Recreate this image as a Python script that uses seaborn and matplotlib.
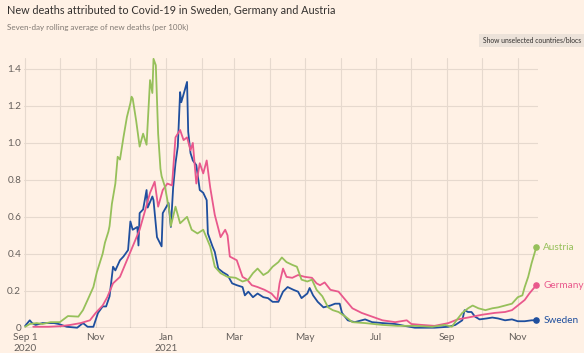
import matplotlib
matplotlib.use("Agg")
import matplotlib.pyplot as plt
import seaborn as sns
import pandas as pd

START = pd.Timestamp("2020-09-01")

austria_days = [0, 4, 10, 15, 22, 30, 37, 46, 50, 54, 59, 62, 67, 69, 72, 73, 75, 78, 80, 82,
                85, 88, 91, 92, 93, 96, 99, 102, 105, 108, 110, 111, 113, 115, 117, 118, 121,
                125, 126, 130, 134, 140, 144, 149, 154, 160, 164, 169, 175, 182, 188, 193, 197,
                201, 206, 210, 214, 219, 222, 226, 231, 235, 239, 244, 248, 252, 257, 262, 266,
                271, 277, 283, 294, 309, 322, 337, 352, 363, 369, 373, 378, 383, 387, 392, 398,
                404, 409, 415, 421, 426, 430, 432, 435, 438, 442]
austria_vals = [0.005, 0.02, 0.025, 0.02, 0.03, 0.03, 0.063, 0.06, 0.095, 0.15, 0.22, 0.30, 0.40,
                0.46, 0.52, 0.55, 0.67, 0.78, 0.925, 0.91, 1.03, 1.14, 1.215, 1.25, 1.24, 1.12,
                0.98, 1.05, 0.99, 1.34, 1.27, 1.455, 1.42, 1.05, 0.86, 0.82, 0.76, 0.62, 0.55,
                0.655, 0.565, 0.60, 0.53, 0.51, 0.53, 0.44, 0.33, 0.295, 0.275, 0.27, 0.25, 0.26,
                0.295, 0.32, 0.285, 0.30, 0.33, 0.355, 0.38, 0.355, 0.34, 0.33, 0.26, 0.25, 0.26,
                0.205, 0.17, 0.11, 0.095, 0.085, 0.06, 0.03, 0.025, 0.015, 0.01, 0.01, 0.005,
                0.015, 0.005, 0.04, 0.08, 0.105, 0.12, 0.105, 0.095, 0.105, 0.11, 0.12, 0.13,
                0.165, 0.175, 0.22, 0.275, 0.35, 0.435]

germany_days = [7, 20, 30, 39, 48, 56, 61, 67, 71, 76, 82, 88, 93, 99, 104, 108, 112, 115, 119,
                123, 127, 130, 134, 137, 140, 143, 145, 148, 151, 154, 157, 160, 164, 169, 173,
                175, 177, 183, 188, 192, 196, 201, 207, 213, 218, 220, 223, 226, 231, 236, 242,
                248, 252, 255, 259, 264, 271, 277, 283, 291, 300, 309, 320, 330, 334, 343, 354,
                366, 374, 383, 395, 406, 415, 421, 426, 432, 436, 442]
germany_vals = [0.005, 0.005, 0.008, 0.015, 0.025, 0.04, 0.08, 0.12, 0.165, 0.24, 0.275, 0.365,
                0.44, 0.53, 0.64, 0.73, 0.79, 0.655, 0.745, 0.78, 0.77, 1.03, 1.07, 1.015, 1.03,
                0.96, 1.0, 0.78, 0.89, 0.835, 0.905, 0.76, 0.61, 0.49, 0.53, 0.50, 0.385, 0.365,
                0.275, 0.26, 0.23, 0.22, 0.205, 0.185, 0.15, 0.24, 0.32, 0.275, 0.27, 0.285,
                0.275, 0.27, 0.24, 0.23, 0.245, 0.205, 0.195, 0.15, 0.105, 0.08, 0.06, 0.04,
                0.03, 0.04, 0.02, 0.015, 0.01, 0.025, 0.045, 0.055, 0.07, 0.08, 0.085, 0.095,
                0.12, 0.15, 0.185, 0.23]

sweden_days = [0, 4, 6, 9, 15, 25, 29, 36, 45, 50, 54, 59, 63, 67, 70, 73, 76, 78, 82, 85, 89,
               91, 93, 97, 98, 99, 102, 105, 106, 110, 111, 114, 118, 119, 124, 126, 128, 130,
               132, 134, 135, 138, 140, 141, 143, 145, 148, 151, 154, 157, 158, 162, 164, 167,
               171, 175, 179, 183, 188, 190, 193, 197, 201, 206, 210, 214, 219, 223, 227, 232,
               236, 239, 244, 246, 249, 253, 258, 264, 268, 272, 274, 279, 285, 294, 300, 309,
               320, 328, 337, 354, 366, 372, 378, 380, 383, 386, 389, 393, 399, 404, 409, 415,
               421, 426, 432, 438, 442]
sweden_vals = [0.01, 0.04, 0.025, 0.015, 0.025, 0.025, 0.02, 0.005, 0.0, 0.025, 0.005, 0.005,
               0.08, 0.115, 0.115, 0.17, 0.33, 0.31, 0.365, 0.385, 0.42, 0.575, 0.53, 0.545,
               0.445, 0.62, 0.64, 0.745, 0.65, 0.71, 0.69, 0.49, 0.44, 0.62, 0.675, 0.545, 0.76,
               0.89, 0.98, 1.275, 1.22, 1.285, 1.33, 1.06, 0.945, 0.905, 0.88, 0.745, 0.73, 0.69,
               0.51, 0.44, 0.41, 0.32, 0.30, 0.285, 0.24, 0.23, 0.22, 0.175, 0.195, 0.165, 0.185,
               0.165, 0.16, 0.14, 0.14, 0.195, 0.22, 0.205, 0.195, 0.16, 0.185, 0.215, 0.175,
               0.14, 0.11, 0.12, 0.13, 0.13, 0.08, 0.04, 0.03, 0.045, 0.03, 0.025, 0.02, 0.01,
               0.0, 0.0, 0.005, 0.015, 0.04, 0.095, 0.085, 0.085, 0.06, 0.045, 0.05, 0.055,
               0.05, 0.04, 0.045, 0.035, 0.035, 0.04, 0.04]

countries = ["Sweden", "Germany", "Austria"]
colors = {"Sweden": "#1f4f9e", "Germany": "#e9588c", "Austria": "#96c05a"}

title = "New deaths attributed to Covid-19 in Sweden, Germany and Austria"
subtitle = "Seven-day rolling average of new deaths (per 100k)"
button_text = "Show unselected countries/blocs"
y_ticks = [0, 0.2, 0.4, 0.6, 0.8, 1.0, 1.2, 1.4]
y_labels = ["0", "0.2", "0.4", "0.6", "0.8", "1.0", "1.2", "1.4"]
x_tick_dates = ["2020-09-01", "2020-11-01", "2021-01-01", "2021-03-01", "2021-05-01",
                "2021-07-01", "2021-09-01", "2021-11-01"]
x_tick_labels = ["Sep 1\n2020", "Nov", "Jan\n2021", "Mar", "May", "Jul", "Sep", "Nov"]

frames = []
series = [("Sweden", sweden_days, sweden_vals),
          ("Germany", germany_days, germany_vals),
          ("Austria", austria_days, austria_vals)]
for name, d, v in series:
    frames.append(pd.DataFrame({"date": START + pd.to_timedelta(d, unit="D"),
                                "value": v, "country": name}))
df = pd.concat(frames, ignore_index=True)

BG = "#fff1e5"
sns.set_theme(style="white")
plt.rcParams["font.family"] = ["Lato", "DejaVu Sans"]

fig = plt.figure(figsize=(5.84, 3.53), dpi=100, facecolor=BG)
ax = fig.add_axes([24 / 584, (353 - 327.7) / 353, (538 - 24) / 584, (327.7 - 57.9) / 353])
ax.set_facecolor(BG)

sns.lineplot(data=df, x="date", y="value", hue="country", hue_order=countries,
             palette=colors, linewidth=1.3, ax=ax, legend=False, clip_on=False)

ax.set_xlim(START - pd.Timedelta(days=1), START + pd.Timedelta(days=443.5))
ax.set_ylim(0, 1.46)

for m in pd.date_range("2020-09-01", "2021-11-01", freq="MS"):
    ax.axvline(m, color="#e6d9ce", lw=0.8, zorder=0)
ax.set_yticks(y_ticks)
ax.set_yticklabels(y_labels)
for yv in y_ticks[1:]:
    ax.axhline(yv, color="#e6d9ce", lw=0.8, zorder=0)
ax.axhline(0, color="#66605c", lw=0.9, zorder=1)

ax.set_xticks(pd.to_datetime(x_tick_dates))
ax.set_xticklabels(x_tick_labels)
ax.tick_params(axis="both", length=0, labelsize=7.2, labelcolor="#66605c")
ax.tick_params(axis="y", pad=2)
ax.tick_params(axis="x", pad=4)
for s in ax.spines.values():
    s.set_visible(False)
ax.set_xlabel("")
ax.set_ylabel("")

for name, d, v in series:
    xd = START + pd.Timedelta(days=d[-1])
    ax.scatter([xd], [v[-1]], s=14, color=colors[name], zorder=5, clip_on=False)
    ax.annotate(name, (xd, v[-1]), xytext=(5, 0), textcoords="offset points",
                va="center", ha="left", fontsize=7.2, color=colors[name],
                annotation_clip=False)

fig.text(7 / 584, 1 - 11 / 353, title, fontsize=7.8, color="#33302e", va="center", ha="left")
fig.text(7 / 584, 1 - 27 / 353, subtitle, fontsize=5.8, color="#807973", va="center", ha="left")
fig.patches.append(plt.Rectangle((479 / 584, 1 - 47 / 353), 120 / 584, 13 / 353,
                                 transform=fig.transFigure, facecolor="#ece2d9",
                                 edgecolor="none", zorder=0))
fig.text(483 / 584, 1 - 40.5 / 353, button_text, fontsize=4.9, color="#33302e",
         va="center", ha="left")

fig.savefig("out.png", dpi=100, facecolor=BG)
